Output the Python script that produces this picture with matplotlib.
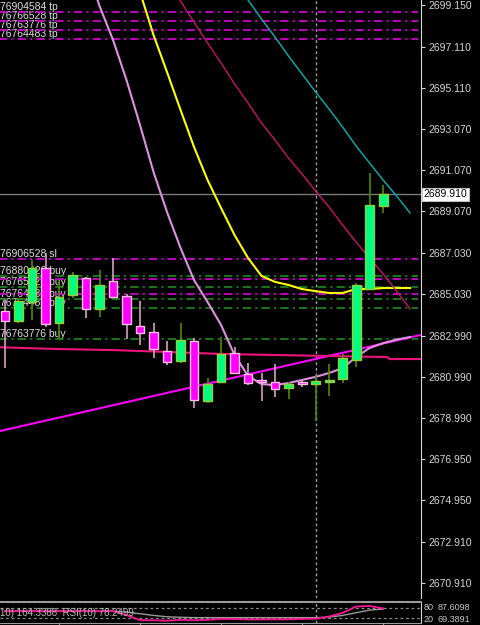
import numpy as np
import matplotlib
matplotlib.use("Agg")
import matplotlib.pyplot as plt
from matplotlib.transforms import blended_transform_factory

plt.rcParams['font.family'] = ['Liberation Sans', 'DejaVu Sans']
plt.rcParams['lines.scale_dashes'] = False

# --- candles -----------------------------------------------------------------
opens = [2684.20, 2683.71, 2684.64, 2686.30, 2683.61, 2684.98, 2685.81, 2684.30,
         2685.66, 2684.93, 2683.46, 2683.17, 2682.24, 2681.75, 2682.73, 2679.80,
         2680.73, 2682.15, 2681.12, 2680.83, 2680.73, 2680.44, 2680.73, 2680.63,
         2680.73, 2680.88, 2681.80, 2685.27, 2689.33]
highs = [2684.73, 2684.83, 2686.69, 2687.03, 2685.71, 2686.10, 2685.86, 2686.20,
         2686.79, 2685.03, 2684.69, 2683.61, 2682.73, 2683.61, 2682.88, 2680.92,
         2682.93, 2682.44, 2681.66, 2681.17, 2681.61, 2680.73, 2680.83, 2681.07,
         2681.61, 2682.10, 2685.57, 2690.94, 2690.35]
lows = [2681.41, 2683.61, 2683.76, 2683.42, 2682.83, 2684.83, 2683.86, 2683.90,
        2684.83, 2682.83, 2682.54, 2681.90, 2681.56, 2681.66, 2679.46, 2679.70,
        2680.73, 2681.17, 2680.58, 2679.80, 2680.00, 2679.90, 2680.48, 2678.82,
        2680.04, 2680.68, 2681.46, 2685.27, 2688.98]
closes = [2683.71, 2684.69, 2686.30, 2683.56, 2684.88, 2685.96, 2684.30, 2685.47,
          2684.88, 2683.56, 2683.12, 2682.34, 2681.71, 2682.78, 2679.85, 2680.63,
          2682.10, 2681.17, 2680.68, 2680.73, 2680.39, 2680.63, 2680.63, 2680.78,
          2680.83, 2681.90, 2685.47, 2689.38, 2689.91]

# --- moving averages (bar index, price) --------------------------------------
plum_x = list(range(6, 31))
plum_y = [2701.10, 2699.10, 2697.44, 2695.48, 2693.28, 2690.99, 2689.03, 2687.28,
          2685.71, 2684.64, 2683.52, 2682.05, 2681.03, 2680.63, 2680.58, 2680.68,
          2680.83, 2680.98, 2681.17, 2681.41, 2681.95, 2682.39, 2682.63, 2682.80,
          2682.93]
yellow_x = list(range(9, 31))
yellow_y = [2701.59, 2699.78, 2697.68, 2695.87, 2694.02, 2692.21, 2690.60, 2689.23,
            2687.91, 2686.79, 2685.91, 2685.62, 2685.47, 2685.27, 2685.17, 2685.08,
            2685.08, 2685.27, 2685.27, 2685.32, 2685.32, 2685.32]
crimson_x = list(range(12, 31))
crimson_y = [2700.37, 2699.34, 2698.31, 2697.29, 2696.31, 2695.29, 2694.36, 2693.38,
             2692.55, 2691.67, 2690.89, 2690.06, 2689.28, 2688.40, 2687.57, 2686.79,
             2686.01, 2685.17, 2684.30]
cyan_x = list(range(17, 31))
cyan_y = [2700.27, 2699.39, 2698.46, 2697.58, 2696.65, 2695.78, 2694.90, 2694.07,
          2693.19, 2692.26, 2691.43, 2690.60, 2689.82, 2688.98]
slow_x = [-1, 0, 4, 8, 12, 16, 20, 24, 28.3, 28.5, 31]
slow_y = [2682.45, 2682.42, 2682.34, 2682.29, 2682.20, 2682.10, 2682.05, 2682.00,
          2681.95, 2681.85, 2681.85]
trend_x = [-1, 31]
trend_y = [2678.24, 2683.06]

# --- order lines ---------------------------------------------------------------
tp_prices = [2698.79, 2698.36, 2697.92, 2697.48]
tp_labels = ["76904584 tp", "76766528 tp", "76763776 tp", "76764483 tp"]
sl_prices = [2686.74, 2685.76, 2685.03]
buy_prices = [2685.91, 2685.37, 2684.78, 2684.34, 2682.83]
buy_labels = ["76880422 buy", "76765528 buy", "76764584 buy", "76764483 buy",
              "76763776 buy"]
sl_label = "76906528 sl"
current_price = 2689.91

price_ticks = [2699.150, 2697.110, 2695.110, 2693.070, 2691.070, 2689.070,
               2687.030, 2685.030, 2682.990, 2680.990, 2678.990, 2676.950,
               2674.950, 2672.910, 2670.910]

# --- lower oscillator ----------------------------------------------------------
rsi = [63.0, 64.0, 63.5, 62.0, 63.0, 64.0, 63.0, 62.5, 63.6, 40.0, 10.0, 9.0, 7.0,
       12.0, 9.0, 12.0, 17.0, 17.0, 14.0, 14.0, 14.6, 14.6, 17.0, 18.4, 31.0, 53.0,
       91.0, 94.7, 80.0]
signal = [63.0, 63.0, 63.0, 63.0, 63.0, 63.0, 63.0, 63.0, 63.0, 58.0, 48.0, 38.0,
          30.0, 27.0, 25.0, 25.0, 25.0, 25.0, 25.0, 25.0, 25.0, 25.0, 25.0, 25.0,
          28.0, 38.0, 54.0, 70.0, 76.0]
osc_levels = [80, 20]

W, H = 481, 625
fig = plt.figure(figsize=(W / 100, H / 100), dpi=100, facecolor="black")
ax = fig.add_axes([0, 27 / H, 421 / W, 598 / H], facecolor="black")
ax2 = fig.add_axes([0, 2 / H, 421 / W, 21 / H], facecolor="black")

n = len(opens)
xs = np.arange(n)
xlim = (-0.37, 30.81)
ax.set_xlim(*xlim)
ax.set_ylim(2670.18, 2699.39)

txt = dict(color="#E0E0E0", fontsize=7.5, zorder=2)
blend = blended_transform_factory(ax.transAxes, ax.transData)
dashdot = (0, (6, 3, 1.5, 3))

# order lines
for p, lab in zip(tp_prices, tp_labels):
    ax.hlines(p, -1, 30.6, color="#CC00CC", lw=1.3, ls=dashdot, zorder=3)
    ax.text(0.0, p + 0.12, lab, transform=blend, va="baseline", **txt)
for p in sl_prices:
    ax.hlines(p, -1, 30.6, color="#CC00CC", lw=1.3, ls=dashdot, zorder=3)
ax.text(0.0, sl_prices[0] + 0.08, sl_label, transform=blend, va="baseline", **txt)
for p, lab in zip(buy_prices, buy_labels):
    ax.hlines(p, -1, 30.6, color="#1E8C1E", lw=1.2, ls=dashdot, zorder=3)
    ax.text(0.0, p + 0.08, lab, transform=blend, va="baseline", **txt)

# current price and vertical separator
ax.axhline(current_price, color="#7A7A7A", lw=1, zorder=3)
ax.axvline(23, color="#A0A0A0", lw=1, ls=(0, (2, 2)), zorder=3)
ax2.axvline(23, color="#A0A0A0", lw=1, ls=(0, (2, 2)), zorder=3)

# indicator lines
ax.plot(trend_x, trend_y, color="#FF00FF", lw=1.5, zorder=4)
ax.plot(slow_x, slow_y, color="#F0147A", lw=1.5, zorder=4)
ax.plot(plum_x, plum_y, color="#E090E0", lw=1.5, zorder=4)
ax.plot(yellow_x, yellow_y, color="#FFFF00", lw=1.5, zorder=4)
ax.plot(crimson_x, crimson_y, color="#C8106E", lw=1.0, zorder=4)
ax.plot(cyan_x, cyan_y, color="#00B4B4", lw=1.0, zorder=4)

# candles
o, h, l, c = map(np.array, (opens, highs, lows, closes))
up = c >= o
ax.vlines(xs[up], l[up], h[up], color="#4E8C00", lw=1.2, zorder=5)
ax.vlines(xs[~up], l[~up], h[~up], color="#D8A0C4", lw=1.2, zorder=5)
bottom = np.minimum(o, c)
height = np.maximum(np.abs(c - o), 0.07)
ax.bar(xs[up], height[up], 0.66, bottom[up], color="#00FF7F",
       edgecolor="#9ACD32", lw=1, zorder=6)
ax.bar(xs[~up], height[~up], 0.66, bottom[~up], color="#FF00FF",
       edgecolor="#FFC0E0", lw=1, zorder=6)

# right price axis
for s in ("top", "left", "bottom"):
    ax.spines[s].set_visible(False)
ax.spines["right"].set_color("#D8D8D8")
ax.yaxis.tick_right()
ax.set_yticks(price_ticks)
ax.set_yticklabels([f"{t:.3f}" for t in price_ticks])
ax.tick_params(axis="y", colors="#D8D8D8", labelcolor="#D8D8D8", length=3,
               pad=2, labelsize=7.5)
ax.set_xticks([])
ax.text(1.006, current_price, f"{current_price:.3f}", transform=blend,
        va="center", ha="left", fontsize=7.5, color="black", clip_on=False,
        bbox=dict(boxstyle="square,pad=0.15", fc="white", ec="#C0C0C0", lw=0.8))

# oscillator panel
ax2.set_xlim(*xlim)
ax2.set_ylim(-7, 118)
for lv in osc_levels:
    ax2.axhline(lv, color="#8A8A8A", lw=0.9, ls=(0, (2, 2)))
ax2.plot(xs, signal, color="#9A9A9A", lw=1.0)
ax2.plot(xs, rsi, color="#FF1493", lw=1.3)
ax2.text(0.0, 0.32, "10) 164.3388  RSI(10) 78.2499", transform=ax2.transAxes,
         color="#B8B8B8", fontsize=7)
ax2.spines["left"].set_visible(False)
ax2.spines["top"].set_color("#9A9A9A")
ax2.spines["top"].set_linewidth(1.5)
ax2.spines["bottom"].set_color("#9A9A9A")
ax2.spines["right"].set_color("#D8D8D8")
ax2.set_yticks([])
ax2.set_xticks([4, 10, 16, 22, 28])
ax2.set_xticklabels([])
ax2.tick_params(axis="x", colors="#9A9A9A", length=2)
b2 = blended_transform_factory(ax2.transAxes, ax2.transData)
for lab, xv, yv in (("80", 1.007, 85), ("87.6098", 1.04, 85),
                    ("20", 1.007, 15), ("69.3891", 1.04, 15)):
    ax2.text(xv, yv, lab, transform=b2, va="center", ha="left", fontsize=6.5,
             color="#C8C8C8", clip_on=False)

fig.savefig("out.png", dpi=100, facecolor="black")
